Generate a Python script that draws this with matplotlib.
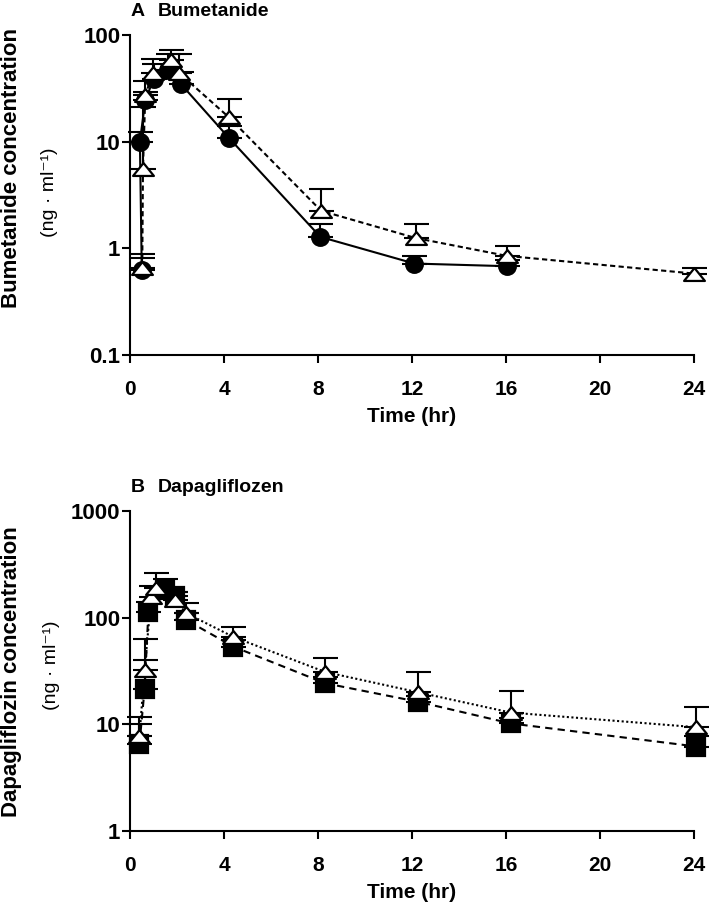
import matplotlib.pyplot as plt
import numpy as np
from matplotlib.path import Path

plt.rcParams['font.family'] = ['Liberation Sans', 'DejaVu Sans']

# ---- A: Bumetanide ----
bum_t_circ = [0.5, 0.42, 0.65, 1.0, 1.6, 2.15, 4.2, 8.1, 12.1, 16.05]
bum_y_circ = [0.62, 10.0, 24.5, 38.5, 47, 35, 10.9, 1.28, 0.72, 0.68]
bum_up_circ = [0.82, 12.4, 29, 54, 67, 45, 14, 1.7, 0.85, 0.78]

bum_t_tri = [0.52, 0.55, 0.65, 0.97, 1.75, 2.1, 4.2, 8.13, 12.15, 16.03, 24.0]
bum_y_tri = [0.66, 5.6, 27.4, 43.8, 58, 43.8, 17, 2.25, 1.25, 0.85, 0.58]
bum_up_tri = [0.89, 21, 37, 59, 73, 66, 25, 3.6, 1.7, 1.05, 0.66]

# ---- B: Dapagliflozin ----
dapa_t_sq = [0.4, 0.62, 0.78, 1.5, 1.9, 2.4, 4.4, 8.3, 12.25, 16.2, 24.1]
dapa_y_sq = [6.5, 21.5, 112, 180, 160, 95, 53.5, 24.3, 16.3, 10.2, 6.2]
dapa_up_sq = [10, 40, 141, 233, 175, 110, 62, 28, 18.5, 11.5, 7.8]

dapa_t_tri = [0.4, 0.62, 0.9, 1.1, 1.9, 2.4, 4.4, 8.3, 12.25, 16.2, 24.1]
dapa_y_tri = [7.8, 32, 157, 190, 147, 110, 66, 31, 20, 12.9, 9.4]
dapa_up_tri = [11.6, 63, 200, 264, 175, 136, 82, 41.6, 30.8, 20.6, 14.6]

x_ticks = [0, 4, 8, 12, 16, 20, 24]

# flattened open triangle like the original
tri = Path([(0, 0.62), (-1, -0.62), (1, -0.62), (0, 0.62)],
           [Path.MOVETO, Path.LINETO, Path.LINETO, Path.CLOSEPOLY])


def series(ax, t, y, up, marker, ms, ls, face, z):
    y = np.array(y)
    err = [np.zeros_like(y), np.array(up) - y]
    ax.errorbar(t, y, yerr=err, fmt='none', ecolor='black', elinewidth=1.5,
                capsize=9, capthick=1.5, zorder=z, clip_on=False)
    ax.plot(t, y, color='black', lw=1.5, linestyle=ls, marker=marker, ms=ms,
            mfc=face, mec='black', mew=1.6, zorder=z + 0.5, clip_on=False)


def style(ax, ymin, ymax, yticks, ylabels):
    ax.set_yscale('log')
    ax.set_ylim(ymin, ymax)
    ax.set_xlim(0, 24)
    ax.set_xticks(x_ticks)
    ax.set_yticks(yticks)
    ax.set_yticklabels(ylabels)
    ax.minorticks_off()
    for s in ['top', 'right']:
        ax.spines[s].set_visible(False)
    for s in ['left', 'bottom']:
        ax.spines[s].set_linewidth(1.5)
    ax.tick_params(axis='both', width=1.5, length=6)
    ax.tick_params(axis='x', pad=12, labelsize=15)
    ax.tick_params(axis='y', pad=1, labelsize=16)
    for lab in ax.get_xticklabels() + ax.get_yticklabels():
        lab.set_fontweight('bold')
    ax.set_xlabel('Time (hr)', fontsize=15, fontweight='bold', labelpad=6)


fig = plt.figure(figsize=(7.09, 9.10), dpi=100)

ax1 = fig.add_axes([0.1834, 0.6099, 0.7955, 0.3516])
series(ax1, bum_t_circ, bum_y_circ, bum_up_circ, 'o', 12, '-', 'black', 2)
series(ax1, bum_t_tri, bum_y_tri, bum_up_tri, tri, 15, (0, (2.5, 1.6)), 'white', 4)
style(ax1, 0.1, 100, [0.1, 1, 10, 100], ['0.1', '1', '10', '100'])

ax2 = fig.add_axes([0.1834, 0.0868, 0.7955, 0.3516])
series(ax2, dapa_t_sq, dapa_y_sq, dapa_up_sq, 's', 13, (0, (3.5, 2.5)), 'black', 2)
series(ax2, dapa_t_tri, dapa_y_tri, dapa_up_tri, tri, 15, (0, (1, 1.2)), 'white', 4)
style(ax2, 1, 1000, [1, 10, 100, 1000], ['1', '10', '100', '1000'])

# panel titles
fig.text(131 / 709, 1 - 12 / 910, 'A', fontsize=14, fontweight='bold', va='center')
fig.text(158 / 709, 1 - 12 / 910, 'Bumetanide', fontsize=14, fontweight='bold', va='center')
fig.text(131 / 709, 1 - 488 / 910, 'B', fontsize=14, fontweight='bold', va='center')
fig.text(158 / 709, 1 - 488 / 910, 'Dapagliflozen', fontsize=14, fontweight='bold', va='center')

# y labels (two lines)
fig.text(12 / 709, 1 - 168 / 910, 'Bumetanide concentration', rotation=90,
         fontsize=16, fontweight='bold', ha='center', va='center')
fig.text(50 / 709, 1 - 192 / 910, '(ng · ml⁻¹)', rotation=90,
         fontsize=14, ha='center', va='center')
fig.text(12 / 709, 1 - 672 / 910, 'Dapagliflozin concentration', rotation=90,
         fontsize=16, fontweight='bold', ha='center', va='center')
fig.text(52 / 709, 1 - 665 / 910, '(ng · ml⁻¹)', rotation=90,
         fontsize=14, ha='center', va='center')

plt.savefig('out.png', dpi=100)
